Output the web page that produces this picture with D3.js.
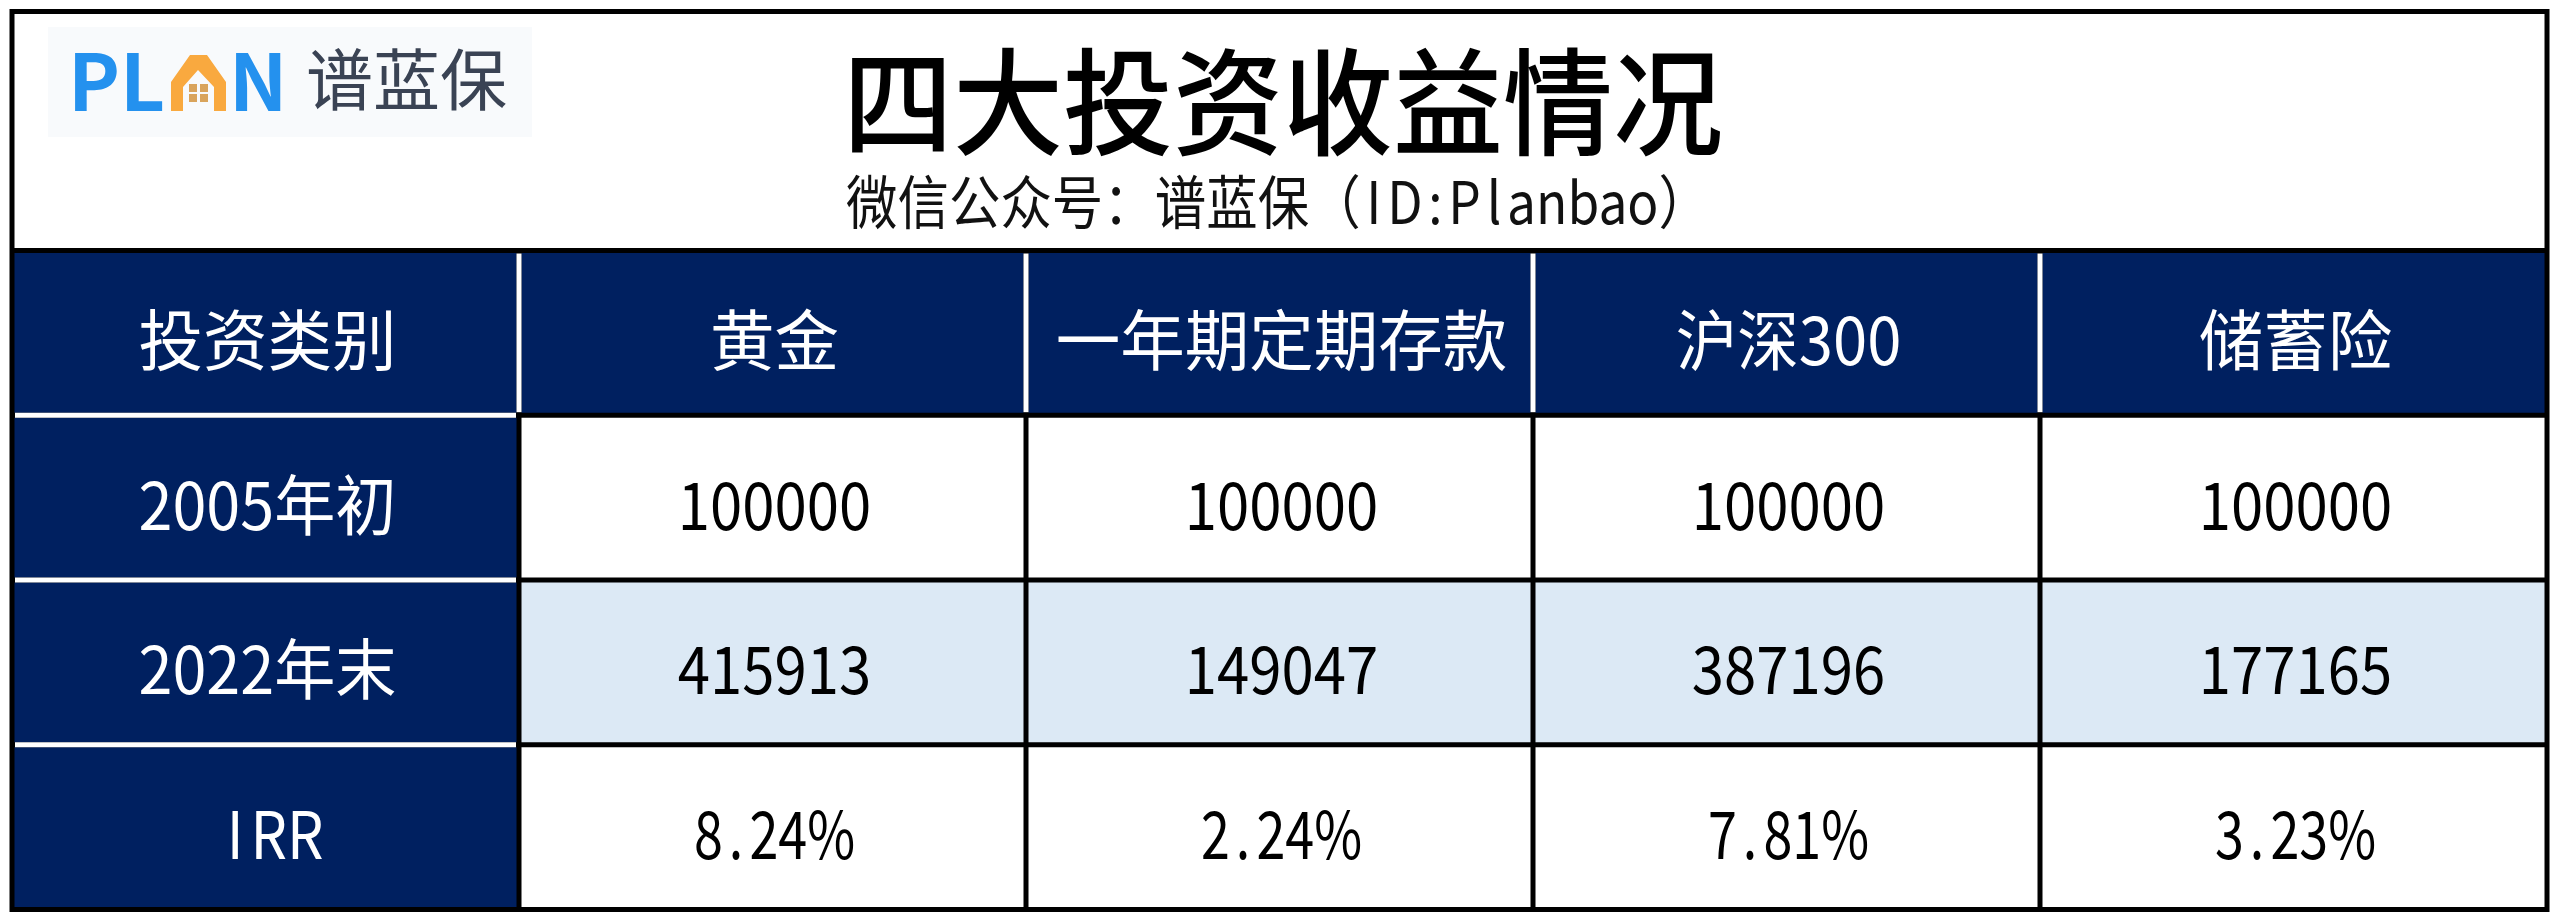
<!DOCTYPE html>
<html>
<head>
<meta charset="utf-8">
<script src="https://cdn.jsdelivr.net/npm/d3@7"></script>
<style>
  html, body { margin: 0; background: #fff; }
  svg { display: block; }
  text { font-family: "Noto Sans CJK SC", sans-serif; text-spacing-trim: space-all; }
</style>
</head>
<body>
<script>
var title = "四大投资收益情况";
var subtitle = "微信公众号：谱蓝保（ID:Planbao）";
var categories = ["黄金", "一年期定期存款", "沪深300", "储蓄险"];
var rowLabels = ["投资类别", "2005年初", "2022年末", "IRR"];
var start2005 = ["100000", "100000", "100000", "100000"];
var end2022 = ["415913", "149047", "387196", "177165"];
var irr = ["8.24%", "2.24%", "7.81%", "3.23%"];

var navy = "#002060", pale = "#dce9f5";

var svg = d3.select("body").append("svg")
    .attr("width", 2560)
    .attr("height", 922);

svg.append("rect").attr("width", 2560).attr("height", 922).attr("fill", "#fff");

var x = d3.scaleBand().domain(d3.range(5)).range([12, 2547]);
var y = d3.scaleBand().domain(d3.range(4)).range([250.5, 909.5]);

var rows = [categories, start2005, end2022, irr];

// half width latin, like the simhei in the picture
function textWidth(s, em) {
    var n = 0;
    for (var c of s) n += c.charCodeAt(0) > 255 ? 1 : 0.5;
    return n * em;
}

// narrow glyphs get air around them so they sit in a half width slot
function gaps(s, em) {
    var chars = Array.from(s);
    return chars.map(function(c, i) {
        var g = 0;
        if (".Il:".indexOf(c) >= 0) g += 0.12 * em;
        if (i > 0 && ".Il:".indexOf(chars[i - 1]) >= 0) g += 0.12 * em;
        return g;
    }).join(" ");
}

function label(g, s, cx, cy, size, em, color, weight) {
    return g.append("text")
        .attr("x", cx)
        .attr("y", cy)
        .attr("dx", gaps(s, em))
        .attr("text-anchor", "middle")
        .attr("dominant-baseline", "central")
        .attr("font-size", size)
        .attr("font-weight", weight || 400)
        .attr("fill", color)
        .attr("textLength", textWidth(s, em))
        .attr("lengthAdjust", "spacingAndGlyphs")
        .text(s);
}

// cells
rows.forEach(function(values, r) {
    var fill = r == 0 ? navy : r == 2 ? pale : "#fff";
    svg.selectAll(".cell" + r)
        .data(values)
        .enter().append("rect")
        .attr("x", function(d, i) { return x(i + 1); })
        .attr("y", y(r))
        .attr("width", x.bandwidth())
        .attr("height", y.bandwidth())
        .attr("fill", fill);
});
svg.selectAll(".head")
    .data(rowLabels)
    .enter().append("rect")
    .attr("x", x(0))
    .attr("y", function(d, i) { return y(i); })
    .attr("width", x.bandwidth())
    .attr("height", y.bandwidth())
    .attr("fill", navy);

// grid lines
var black = "#000";
d3.range(1, 5).forEach(function(c) {
    svg.append("line")
        .attr("x1", x(c)).attr("x2", x(c))
        .attr("y1", y(0)).attr("y2", y(3) + y.bandwidth())
        .attr("stroke", black).attr("stroke-width", 5);
    svg.append("line")
        .attr("x1", x(c)).attr("x2", x(c))
        .attr("y1", y(0) + 3).attr("y2", y(1) - 3)
        .attr("stroke", "#fff").attr("stroke-width", 5);
});
d3.range(1, 4).forEach(function(r) {
    svg.append("line")
        .attr("x1", x(0)).attr("x2", x(4) + x.bandwidth())
        .attr("y1", y(r)).attr("y2", y(r))
        .attr("stroke", black).attr("stroke-width", 5);
    svg.append("line")
        .attr("x1", x(0) + 3).attr("x2", x(1) - 3)
        .attr("y1", y(r)).attr("y2", y(r))
        .attr("stroke", "#fff").attr("stroke-width", 5);
});
svg.append("line")
    .attr("x1", x(0)).attr("x2", x(4) + x.bandwidth())
    .attr("y1", y(0)).attr("y2", y(0))
    .attr("stroke", black).attr("stroke-width", 5);
svg.append("rect")
    .attr("x", x(0))
    .attr("y", 11.5)
    .attr("width", x(4) + x.bandwidth() - x(0))
    .attr("height", y(3) + y.bandwidth() - 11.5)
    .attr("fill", "none")
    .attr("stroke", black)
    .attr("stroke-width", 5);

// cell text
rowLabels.forEach(function(s, r) {
    label(svg, s, x(0) + x.bandwidth() / 2 + 2, y(r) + y.bandwidth() / 2 + 3, 66, 64.5, "#fff");
});
rows.forEach(function(values, r) {
    values.forEach(function(s, c) {
        label(svg, s, x(c + 1) + x.bandwidth() / 2 + 2, y(r) + y.bandwidth() / 2 + 3, 66, 64.5, r == 0 ? "#fff" : "#000");
    });
});

// title
label(svg, title, 1283, 95, 116, 110, "#000", 500);
label(svg, subtitle, 1278, 199, 58, 54, "#111");

// logo
var logo = svg.append("g");
logo.append("rect")
    .attr("x", 48).attr("y", 27)
    .attr("width", 484).attr("height", 110)
    .attr("fill", "#f8fafc");
logo.append("text")
    .attr("x", 68).attr("y", 111)
    .attr("font-size", 78).attr("font-weight", 700)
    .attr("fill", "#2491ee")
    .text("PL");
logo.append("path")
    .attr("d", "M171 111V82L190 55H207L226 82V111H214V87L198 70L183 87V111Z")
    .attr("fill", "#f9a93f");
logo.append("path")
    .attr("d", "M189 84H197V92H189ZM200 84H208V92H200ZM189 94H197V102H189ZM200 94H208V102H200Z")
    .attr("fill", "#d9a45c");
logo.append("text")
    .attr("x", 229).attr("y", 111)
    .attr("font-size", 78).attr("font-weight", 700)
    .attr("fill", "#2491ee")
    .text("N");
logo.append("text")
    .attr("x", 306).attr("y", 105)
    .attr("font-size", 67)
    .attr("fill", "#3a4354")
    .text("谱蓝保");
</script>
</body>
</html>
